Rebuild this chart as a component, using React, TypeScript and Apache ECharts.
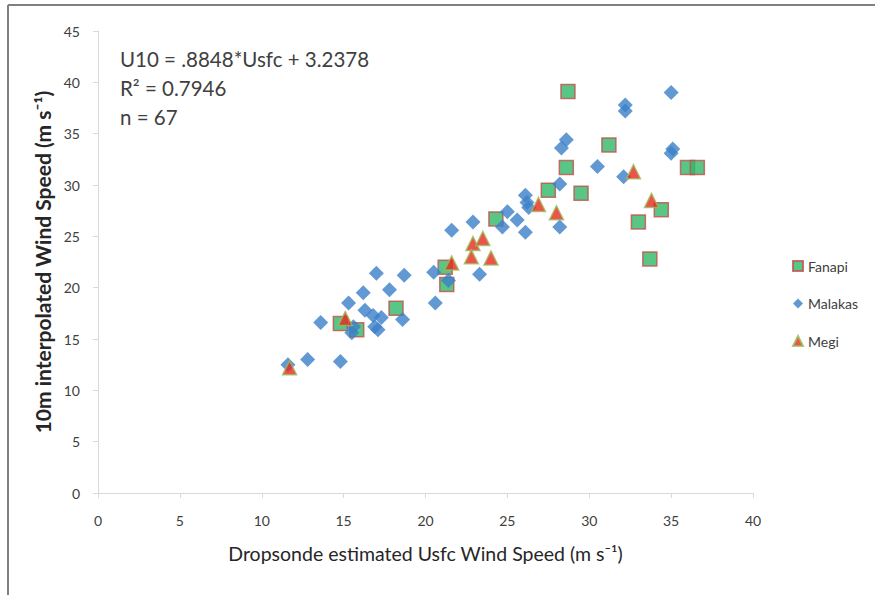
import React, { useEffect, useRef } from "react";
import * as echarts from "echarts";

const xTicks = { min: 0, max: 40, interval: 5 };
const yTicks = { min: 0, max: 45, interval: 5 };

const fanapi: number[][] = [
  [28.7, 39.1], [31.2, 33.9], [28.6, 31.7], [36.0, 31.7], [36.6, 31.7],
  [27.5, 29.5], [29.5, 29.2], [34.4, 27.6], [33.0, 26.4], [33.7, 22.8],
  [24.3, 26.7], [21.2, 22.0], [21.3, 20.3], [18.2, 18.0], [14.8, 16.5],
  [15.8, 15.9],
];

const malakas: number[][] = [
  [35.0, 39.0], [32.2, 37.8], [32.2, 37.2], [28.6, 34.4], [28.3, 33.6],
  [35.1, 33.5], [35.0, 33.1], [30.5, 31.8], [32.1, 30.8], [28.2, 30.1],
  [26.1, 29.0], [26.2, 28.3], [26.3, 27.8], [28.2, 25.9], [25.0, 27.4],
  [25.6, 26.6], [24.7, 25.9], [26.1, 25.4], [22.9, 26.4], [21.6, 25.6],
  [23.3, 21.3], [21.4, 20.7], [17.0, 21.4], [18.7, 21.2], [20.5, 21.5],
  [20.6, 18.5], [16.2, 19.5], [15.3, 18.5], [17.8, 19.8], [18.6, 16.9],
  [16.3, 17.8], [16.8, 17.3], [17.3, 17.1], [16.9, 16.2], [17.1, 15.9],
  [15.6, 16.2], [15.5, 15.6], [13.6, 16.6], [12.8, 13.0], [14.8, 12.8],
  [11.6, 12.5],
];

const megi: number[][] = [
  [11.7, 12.2], [15.1, 17.0], [21.6, 22.4], [22.9, 24.3], [23.5, 24.8],
  [22.8, 23.0], [24.0, 22.9], [26.9, 28.1], [28.0, 27.3], [32.7, 31.3],
  [33.8, 28.5],
];

const seriesNames = ["Fanapi", "Malakas", "Megi"];
const annotationLines = ["U10 = .8848*Usfc + 3.2378", "R\u00B2 = 0.7946", "n = 67"];
const xTitle = "Dropsonde estimated Usfc Wind Speed (m s\u207B\u00B9)";
const yTitle = "10m interpolated Wind Speed (m s\u207B\u00B9)";

const FONT = "Lato, 'Open Sans', sans-serif";

export default function App() {
  const ref = useRef<HTMLDivElement>(null);
  useEffect(() => {
    if (!ref.current) return;
    const chart = echarts.init(ref.current, undefined, { renderer: "svg" });
    const axisCommon = {
      type: "value" as const,
      axisLine: { show: true, lineStyle: { color: "#d9d9d9", width: 1 } },
      axisTick: { show: true, inside: false, length: 5, lineStyle: { color: "#d9d9d9" } },
      splitLine: { show: false },
      axisLabel: { color: "#404040", fontSize: 14, fontFamily: FONT },
      nameLocation: "middle" as const,
      nameTextStyle: { color: "#262626", fontSize: 19.5, fontFamily: FONT },
    };
    chart.setOption({
      animation: false,
      backgroundColor: "#ffffff",
      textStyle: { fontFamily: FONT },
      grid: { left: 98, top: 31, right: 122, bottom: 102 },
      xAxis: {
        ...axisCommon,
        ...xTicks,
        name: xTitle,
        nameGap: 50,
        axisLabel: { ...axisCommon.axisLabel, margin: 20 },
      },
      yAxis: {
        ...axisCommon,
        ...yTicks,
        name: yTitle,
        nameGap: 43,
        nameTextStyle: { ...axisCommon.nameTextStyle, fontSize: 21, fontWeight: "bold" },
        axisLabel: { ...axisCommon.axisLabel, margin: 18 },
      },
      legend: {
        orient: "vertical",
        left: 787,
        top: 254,
        itemWidth: 10,
        itemHeight: 10,
        itemGap: 23.5,
        textStyle: { color: "#404040", fontSize: 14, fontFamily: FONT },
        data: seriesNames,
      },
      graphic: [
        { type: "line", shape: { x1: 8, y1: 5, x2: 875, y2: 5 }, style: { stroke: "#808080", lineWidth: 2 } },
        { type: "line", shape: { x1: 8, y1: 5, x2: 8, y2: 595 }, style: { stroke: "#808080", lineWidth: 2 } },
        ...annotationLines.map((t, i) => ({
          type: "text",
          left: 120,
          top: 48 + i * 29,
          style: { text: t, fill: "#404040", fontSize: 20.5, fontFamily: FONT },
        })),
      ],
      series: [
        {
          name: seriesNames[0],
          type: "scatter",
          symbol: "rect",
          symbolSize: 14,
          data: fanapi,
          itemStyle: { color: "#2fb868", borderColor: "#c0504d", borderWidth: 1.5 },
        },
        {
          name: seriesNames[1],
          type: "scatter",
          symbol: "diamond",
          symbolSize: 15,
          data: malakas,
          itemStyle: { color: "#3b80c8" },
        },
        {
          name: seriesNames[2],
          type: "scatter",
          symbol: "triangle",
          symbolSize: 14,
          data: megi,
          itemStyle: { color: "#e8281e", borderColor: "#9bbb59", borderWidth: 1.5 },
        },
      ],
    });
    return () => chart.dispose();
  }, []);
  return (
    <div
      ref={ref}
      style={{ position: "fixed", left: 0, top: 0, width: 875, height: 595, background: "#fff" }}
    />
  );
}
